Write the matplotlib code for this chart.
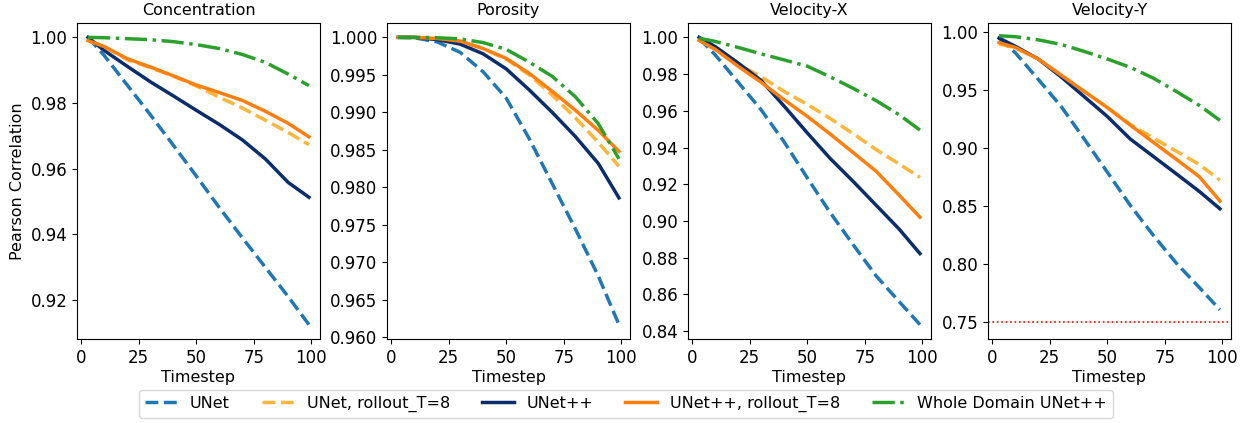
import numpy as np
import matplotlib
matplotlib.use("Agg")
import matplotlib.pyplot as plt

# timesteps at which values were read
t = [3, 10, 20, 30, 40, 50, 60, 70, 80, 90, 99]

titles = ["Concentration", "Porosity", "Velocity-X", "Velocity-Y"]
labels = ["UNet", "UNet, rollout_T=8", "UNet++", "UNet++, rollout_T=8", "Whole Domain UNet++"]

# Concentration
conc_unet = [1.0000, 0.9945, 0.9855, 0.9765, 0.9672, 0.9578, 0.9482, 0.9390, 0.9300, 0.9210, 0.9125]
conc_unet_ro = [0.9992, 0.9972, 0.9932, 0.9908, 0.9882, 0.9852, 0.9818, 0.9785, 0.9748, 0.9710, 0.9673]
conc_unetpp = [1.0000, 0.9960, 0.9912, 0.9865, 0.9822, 0.9778, 0.9735, 0.9688, 0.9630, 0.9558, 0.9513]
conc_unetpp_ro = [0.9990, 0.9972, 0.9935, 0.9910, 0.9883, 0.9855, 0.9832, 0.9808, 0.9775, 0.9738, 0.9697]
conc_whole = [1.0000, 0.9999, 0.9996, 0.9993, 0.9987, 0.9978, 0.9966, 0.9948, 0.9924, 0.9888, 0.9853]

# Porosity
por_unet = [1.0000, 0.99995, 0.9994, 0.9980, 0.9954, 0.9919, 0.9865, 0.9805, 0.9745, 0.9682, 0.9617]
por_unet_ro = [1.0000, 1.0000, 0.99985, 0.9995, 0.9985, 0.9971, 0.9950, 0.9923, 0.9893, 0.9860, 0.9828]
por_unetpp = [1.0000, 1.0000, 0.9997, 0.9991, 0.9978, 0.9958, 0.9930, 0.9900, 0.9868, 0.9832, 0.9786]
por_unetpp_ro = [1.0000, 1.0000, 0.99985, 0.9995, 0.9985, 0.9972, 0.9952, 0.9928, 0.9903, 0.9876, 0.9848]
por_whole = [1.0000, 1.0000, 0.99995, 0.9998, 0.9993, 0.9984, 0.9967, 0.9948, 0.9921, 0.9885, 0.9838]

# Velocity-X
vx_unet = [0.9995, 0.9905, 0.9755, 0.9605, 0.9430, 0.9235, 0.9045, 0.8870, 0.8700, 0.8560, 0.8435]
vx_unet_ro = [0.9985, 0.9940, 0.9855, 0.9785, 0.9705, 0.9635, 0.9558, 0.9475, 0.9388, 0.9310, 0.9237]
vx_unetpp = [1.0000, 0.9950, 0.9860, 0.9765, 0.9625, 0.9480, 0.9340, 0.9215, 0.9085, 0.8955, 0.8822]
vx_unetpp_ro = [0.9983, 0.9935, 0.9842, 0.9755, 0.9660, 0.9570, 0.9473, 0.9372, 0.9270, 0.9140, 0.9020]
vx_whole = [0.9995, 0.9978, 0.9945, 0.9910, 0.9877, 0.9843, 0.9785, 0.9722, 0.9655, 0.9578, 0.9495]

# Velocity-Y
vy_unet = [0.9950, 0.9825, 0.9595, 0.9360, 0.9080, 0.8795, 0.8508, 0.8250, 0.8010, 0.7800, 0.7607]
vy_unet_ro = [0.9900, 0.9865, 0.9770, 0.9630, 0.9490, 0.9352, 0.9205, 0.9089, 0.8975, 0.8860, 0.8725]
vy_unetpp = [0.9950, 0.9880, 0.9770, 0.9615, 0.9445, 0.9275, 0.9080, 0.8930, 0.8780, 0.8628, 0.8478]
vy_unetpp_ro = [0.9910, 0.9870, 0.9770, 0.9630, 0.9490, 0.9352, 0.9200, 0.9052, 0.8905, 0.8755, 0.8545]
vy_whole = [0.9970, 0.9962, 0.9935, 0.9895, 0.9835, 0.9770, 0.9698, 0.9605, 0.9490, 0.9370, 0.9240]

threshold = 0.75

panels = [
    [conc_unet, conc_unet_ro, conc_unetpp, conc_unetpp_ro, conc_whole],
    [por_unet, por_unet_ro, por_unetpp, por_unetpp_ro, por_whole],
    [vx_unet, vx_unet_ro, vx_unetpp, vx_unetpp_ro, vx_whole],
    [vy_unet, vy_unet_ro, vy_unetpp, vy_unetpp_ro, vy_whole],
]

colors = ["#1f77b4", "#fdb53a", "#0b2d6b", "#ff7f0e", "#2ca02c"]
styles = ["--", "--", "-", "-", "-."]

plt.rcParams["font.size"] = 11.5
plt.rcParams["xtick.labelsize"] = 12
plt.rcParams["ytick.labelsize"] = 12

fig = plt.figure(figsize=(12.46, 4.23), dpi=100)
lefts = [77, 387, 688, 988]
W, H = 1246, 423

for i, series in enumerate(panels):
    ax = fig.add_axes([lefts[i] / W, 1 - 339 / H, 243 / W, 316 / H])
    for vals, c, ls, lab in zip(series, colors, styles, labels):
        ax.plot(t, vals, color=c, linestyle=ls, linewidth=2.5, label=lab)
    if i == 3:
        ax.axhline(threshold, color="red", linestyle=":", linewidth=1.2)
        ax.set_ylim(0.7355, 1.008)
    ax.set_title(titles[i], fontsize=11.5)
    ax.set_xlabel("Timestep", labelpad=2)
    ax.set_xticks([0, 25, 50, 75, 100])
    if i == 0:
        ax.set_ylabel("Pearson Correlation")
    handles, labs = ax.get_legend_handles_labels()

fig.legend(handles, labs, loc="center", bbox_to_anchor=(626 / W, 1 - 404 / H), ncol=5, fontsize=11.5)

plt.savefig("out.png", dpi=100)
